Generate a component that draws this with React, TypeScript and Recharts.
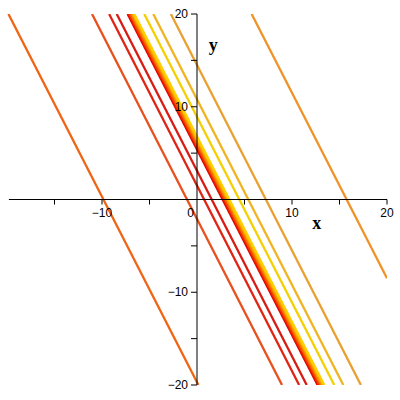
import { ComposedChart, Line, XAxis, YAxis, ReferenceLine, ReferenceDot } from "recharts";

// contour lines y = SLOPE * x + c, one per intercept
const SLOPE = -2;
const INTERCEPTS = [-19.7, -2.1, 1.5, 3.1, 5.4, 5.6, 5.8, 6.0, 6.2, 6.4, 6.6, 6.8, 8.9, 10.8, 14.5, 31.5];
const LINE_COLORS = [
  "#f06414", "#e8501c", "#e02414", "#d81c14",
  "#e00000", "#e81800", "#f03800", "#f45800", "#f87800", "#fc9800", "#ffb800", "#ffd000",
  "#f4d000", "#f0b420", "#eaa030", "#f09228",
];

const X_TICKS = [-15, -10, -5, 0, 5, 10, 15, 20];
const X_LABELS = [-10, 0, 10, 20];
const Y_TICKS = [-20, -15, -10, -5, 5, 10, 15, 20];
const Y_LABELS = [-20, -10, 10, 20];
const DOMAIN: [number, number] = [-20, 20];

const W = 400;
const H = 400;
const MARGIN = { top: 14, right: 13, bottom: 14, left: 6 };
const AXIS_SIZE = 1;
const PLOT_W = W - MARGIN.left - AXIS_SIZE - MARGIN.right;
const PLOT_H = H - MARGIN.top - MARGIN.bottom - AXIS_SIZE;
// pixel position of the origin (axes cross there)
const X0 = MARGIN.left + AXIS_SIZE + PLOT_W / 2;
const Y0 = MARGIN.top + PLOT_H / 2;

const FONT = "'Liberation Sans', Arial, sans-serif";
const minus = (v: number) => (v < 0 ? "\u2212" + Math.abs(v) : String(v));

// two end points of each line, kept inside the square window
const segment = (c: number) => {
  const [lo, hi] = DOMAIN;
  let x1 = (hi - c) / SLOPE;
  let y1 = hi;
  if (x1 < lo) { x1 = lo; y1 = SLOPE * lo + c; }
  let x2 = (lo - c) / SLOPE;
  let y2 = lo;
  if (x2 > hi) { x2 = hi; y2 = SLOPE * hi + c; }
  return [{ x: x1, y: y1 }, { x: x2, y: y2 }];
};

const XTick = (props: any) => {
  const v = props.payload.value;
  if (v === 0) {
    return <text x={props.x - 3} y={Y0 + 17} textAnchor="end" fontSize={12} fontFamily={FONT} fill="#000">0</text>;
  }
  return (
    <g>
      <line x1={props.x} x2={props.x} y1={Y0} y2={Y0 + 5} stroke="#000" />
      {X_LABELS.includes(v) && (
        <text x={props.x} y={Y0 + 17} textAnchor="middle" fontSize={12} fontFamily={FONT} fill="#000">
          {minus(v)}
        </text>
      )}
    </g>
  );
};

const YTick = (props: any) => {
  const v = props.payload.value;
  return (
    <g>
      <line x1={X0 - 6} x2={X0} y1={props.y} y2={props.y} stroke="#000" />
      {Y_LABELS.includes(v) && (
        <text x={X0 - 9} y={props.y + 4} textAnchor="end" fontSize={12} fontFamily={FONT} fill="#000">
          {minus(v)}
        </text>
      )}
    </g>
  );
};

const axisName = (name: string) => (props: any) => {
  const vb = props.viewBox;
  return (
    <text x={vb.x + vb.width / 2} y={vb.y + vb.height / 2 + 5} textAnchor="middle" fontSize={18} fontWeight="bold" fontFamily="'Liberation Serif', 'Times New Roman', serif" fill="#000">
      {name}
    </text>
  );
};

export default function App() {
  return (
    <div style={{ position: "absolute", left: 0, top: 0, width: W, height: H, background: "#fff" }}>
      <ComposedChart width={W} height={H} margin={MARGIN}>
        <XAxis type="number" dataKey="x" domain={DOMAIN} ticks={X_TICKS} allowDataOverflow height={AXIS_SIZE} axisLine={false} tickLine={false} tick={XTick} interval={0} />
        <YAxis type="number" dataKey="y" domain={DOMAIN} ticks={Y_TICKS} allowDataOverflow width={AXIS_SIZE} axisLine={false} tickLine={false} tick={YTick} interval={0} />
        {INTERCEPTS.map((c, i) => (
          <Line
            key={i}
            data={segment(c)}
            dataKey="y"
            type="linear"
            stroke={LINE_COLORS[i]}
            strokeWidth={2.3}
            dot={false}
            activeDot={false}
            isAnimationActive={false}
          />
        ))}
        <ReferenceLine stroke="#000" strokeWidth={1} segment={[{ x: -19.8, y: 0 }, { x: 20, y: 0 }]} />
        <ReferenceLine x={0} stroke="#000" strokeWidth={1} />
        <ReferenceDot x={12.6} y={-2.6} r={1} fill="none" stroke="none" label={axisName("x")} />
        <ReferenceDot x={1.7} y={16.6} r={1} fill="none" stroke="none" label={axisName("y")} />
      </ComposedChart>
    </div>
  );
}
